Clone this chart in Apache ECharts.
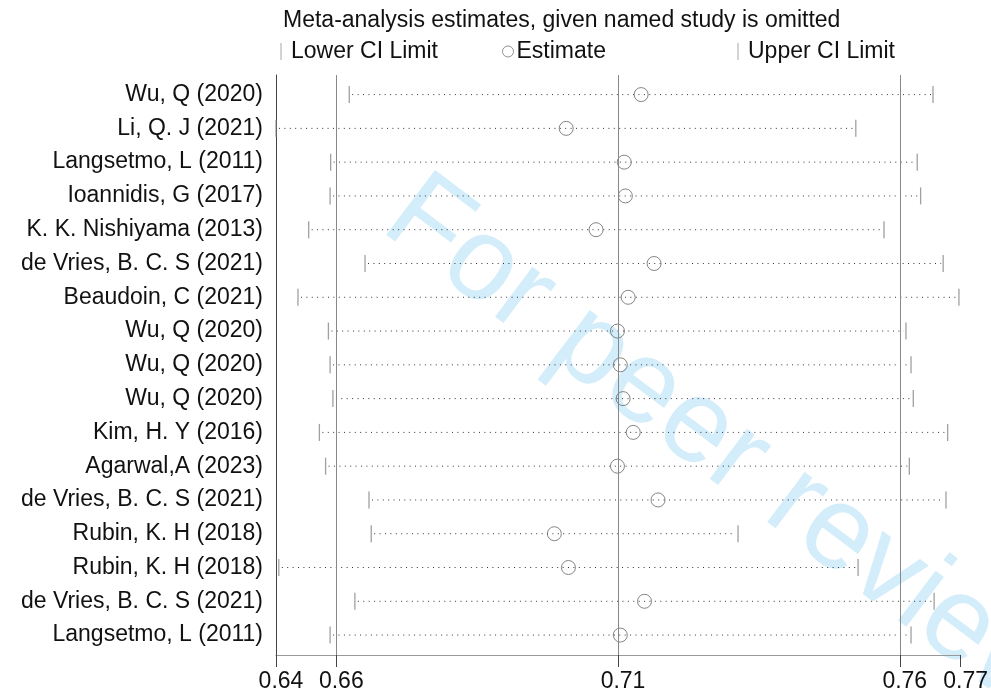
<!DOCTYPE html>
<html><head><meta charset="utf-8">
<script src="https://cdn.jsdelivr.net/npm/echarts@6/dist/echarts.min.js"></script>
<style>html,body{margin:0;padding:0;background:#fff}#c{width:991px;height:693px}</style>
</head><body><div id="c"></div>
<script>
const studies = [
  'Wu, Q (2020)', 'Li, Q. J (2021)', 'Langsetmo, L (2011)', 'Ioannidis, G (2017)',
  'K. K. Nishiyama (2013)', 'de Vries, B. C. S (2021)', 'Beaudoin, C (2021)',
  'Wu, Q (2020)', 'Wu, Q (2020)', 'Wu, Q (2020)', 'Kim, H. Y (2016)', 'Agarwal,A (2023)',
  'de Vries, B. C. S (2021)', 'Rubin, K. H (2018)', 'Rubin, K. H (2018)',
  'de Vries, B. C. S (2021)', 'Langsetmo, L (2011)'
];
const lowerCI   = [0.6623, 0.6493, 0.6590, 0.6589, 0.6551, 0.6651, 0.6532, 0.6586, 0.6589, 0.6594, 0.6570, 0.6581, 0.6658, 0.6662, 0.6498, 0.6633, 0.6589];
const estimates = [0.7141, 0.7008, 0.7111, 0.7113, 0.7061, 0.7164, 0.7118, 0.7099, 0.7104, 0.7109, 0.7127, 0.7099, 0.7171, 0.6987, 0.7012, 0.7147, 0.7104];
const upperCI   = [0.7659, 0.7522, 0.7631, 0.7637, 0.7572, 0.7677, 0.7705, 0.7611, 0.7620, 0.7624, 0.7685, 0.7617, 0.7682, 0.7313, 0.7526, 0.7661, 0.7620];
const xTickValues = [0.6493, 0.66, 0.71, 0.76, 0.7708];
const xTickLabels = ['0.64', '0.66', '0.71', '0.76', '0.77'];
const refLines = [0.66, 0.71, 0.76];
const titleText = 'Meta-analysis estimates, given named study is omitted';
const watermarkText = 'For peer review';

const rows = studies.map((s, i) => i + 1);
const FONT = 'Liberation Sans, Arial, sans-serif';
const FS = 23;

const chart = echarts.init(document.getElementById('c'), null, {renderer: 'canvas'});
chart.setOption({
  animation: false,
  backgroundColor: '#fff',
  textStyle: {fontFamily: FONT},
  title: {
    text: titleText, left: 283, top: 9, padding: 0,
    textStyle: {fontSize: FS, fontWeight: 'normal', color: '#111', fontFamily: FONT}
  },
  legend: [
    {data: [{name: 'Lower CI Limit', icon: 'rect', itemStyle: {color: '#c8c8c8'}}],
     left: 280, top: 40, padding: 0, itemWidth: 2, itemHeight: 17,
     textStyle: {fontSize: FS, color: '#111', fontFamily: FONT, padding: [0, 0, 0, 4]}},
    {data: [{name: 'Estimate', icon: 'circle', itemStyle: {color: 'rgba(0,0,0,0)', borderColor: '#777', borderWidth: 1}}],
     left: 502, top: 40, padding: 0, itemWidth: 11, itemHeight: 11,
     textStyle: {fontSize: FS, color: '#111', fontFamily: FONT, padding: [0, 0, 0, -2]}},
    {data: [{name: 'Upper CI Limit', icon: 'rect', itemStyle: {color: '#c8c8c8'}}],
     left: 737, top: 40, padding: 0, itemWidth: 2, itemHeight: 17,
     textStyle: {fontSize: FS, color: '#111', fontFamily: FONT, padding: [0, 0, 0, 4]}}
  ],
  grid: {left: 276, right: 29, top: 75, bottom: 37, containLabel: false},
  xAxis: {
    type: 'value', min: xTickValues[0], max: xTickValues[xTickValues.length - 1],
    axisLine: {show: true, lineStyle: {color: '#999', width: 1}},
    axisTick: {show: true, customValues: xTickValues, length: 12, lineStyle: {color: '#444'}},
    axisLabel: {
      customValues: xTickValues, margin: 15, fontSize: FS, color: '#111', fontFamily: FONT,
      padding: [0, 0, 0, 10],
      formatter: v => {
        const i = xTickValues.findIndex(t => Math.abs(t - v) < 1e-7);
        return i >= 0 ? xTickLabels[i] : '';
      }
    },
    splitLine: {show: false}
  },
  yAxis: {
    type: 'value', inverse: true, min: 0.42, max: 17.59,
    axisLine: {show: true, lineStyle: {color: '#444', width: 1}},
    axisTick: {show: false},
    axisLabel: {
      customValues: rows, margin: 13, fontSize: FS, color: '#111', fontFamily: FONT,
      formatter: v => studies[Math.round(v) - 1] || ''
    },
    splitLine: {show: false}
  },
  graphic: [{
    type: 'text', x: 398, y: 203, rotation: -37 * Math.PI / 180, z: -10, silent: true,
    style: {text: watermarkText, fontSize: 118, fontFamily: FONT, fill: '#d3edfb',
            align: 'left', verticalAlign: 'middle'}
  }],
  series: [
    {
      type: 'custom', name: 'CI range', z: 2,
      data: rows.map((r, i) => [lowerCI[i], upperCI[i], r]),
      renderItem: (params, api) => {
        const p1 = api.coord([api.value(0), api.value(2)]);
        const p2 = api.coord([api.value(1), api.value(2)]);
        return {
          type: 'line',
          shape: {x1: p1[0] + 3, y1: p1[1], x2: p2[0] - 2, y2: p2[1]},
          style: {stroke: '#333', lineWidth: 1, lineDash: [1, 4.4]}
        };
      },
      markLine: {
        silent: true, symbol: ['none', 'none'], label: {show: false},
        lineStyle: {color: '#888', width: 1, type: 'solid'},
        data: refLines.map(v => ({xAxis: v}))
      }
    },
    {
      type: 'scatter', name: 'Lower CI Limit', z: 3,
      data: rows.map((r, i) => [lowerCI[i], r]),
      symbol: 'rect', symbolSize: [1.3, 17],
      itemStyle: {color: '#888'}
    },
    {
      type: 'scatter', name: 'Upper CI Limit', z: 3,
      data: rows.map((r, i) => [upperCI[i], r]),
      symbol: 'rect', symbolSize: [1.3, 17],
      itemStyle: {color: '#888'}
    },
    {
      type: 'scatter', name: 'Estimate', z: 4,
      data: rows.map((r, i) => [estimates[i], r]),
      symbol: 'circle', symbolSize: 14,
      itemStyle: {color: 'rgba(0,0,0,0)', borderColor: '#666', borderWidth: 1}
    }
  ]
});
</script>
</body></html>
